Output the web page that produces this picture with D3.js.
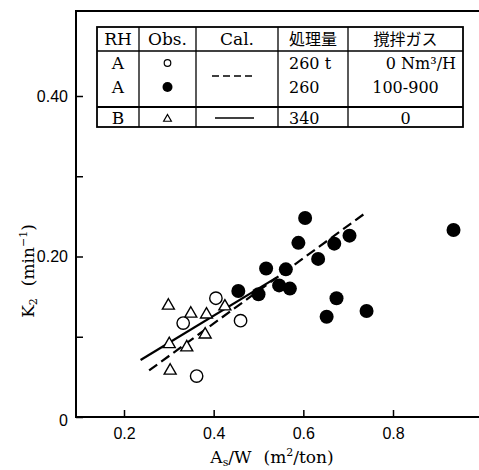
<!DOCTYPE html>
<html>
<head>
<meta charset="utf-8">
<script src="https://cdn.jsdelivr.net/npm/d3@7"></script>
<style>
  body { margin: 0; background: #fff; }
  svg { display: block; font-family: "DejaVu Serif", "Liberation Serif", serif; }
  .jp { font-family: "Noto Sans CJK JP", sans-serif; }
</style>
</head>
<body>
<script>
// observed points [As/W, K2]
var openCircles = [[0.405, 0.148], [0.332, 0.117], [0.460, 0.120], [0.362, 0.051]];
var filledCircles = [
  [0.604, 0.248], [0.935, 0.233], [0.589, 0.217], [0.703, 0.226], [0.669, 0.216],
  [0.633, 0.197], [0.517, 0.185], [0.561, 0.184], [0.546, 0.164], [0.570, 0.160],
  [0.455, 0.157], [0.500, 0.153], [0.674, 0.148], [0.652, 0.125], [0.741, 0.132]
];
var triangles = [
  [0.299, 0.140], [0.349, 0.130], [0.384, 0.129], [0.425, 0.139],
  [0.301, 0.092], [0.381, 0.104], [0.340, 0.088], [0.303, 0.059]
];
// calculated lines
var dashedLine = [[0.256, 0.058], [0.738, 0.254]];
var solidLine = [[0.237, 0.071], [0.541, 0.174]];

var xTicks = [0.2, 0.4, 0.6, 0.8];
var yTicks = [0, 0.1, 0.2, 0.3, 0.4];
var yLabels = {0: "0", 0.2: "0.20", 0.4: "0.40"};

var tableHead = ["RH", "Obs.", "Cal.", "処理量", "撹拌ガス"];
var tableRH = ["A", "A", "B"];
var tableAmount = ["260 t", "260", "340"];
var tableGas = ["0 Nm³/H", "100-900", "0"];

var W = 479, H = 470;
var svg = d3.select("body").append("svg")
  .attr("width", W).attr("height", H);

var x = d3.scaleLinear().domain([0.2, 0.8]).range([124, 393]);
var y = d3.scaleLinear().domain([0, 0.4]).range([417, 96]);
var frameL = 76, frameT = 11, frameR = 479, frameB = 417;

// frame
svg.append("path")
  .attr("d", "M" + frameR + "," + frameT + "H" + frameL + "V" + frameB + "H" + frameR)
  .attr("fill", "none").attr("stroke", "#000").attr("stroke-width", 2);

var xAxis = svg.append("g")
  .attr("transform", "translate(0," + frameB + ")")
  .call(d3.axisBottom(x).tickValues(xTicks).tickSizeInner(-7).tickSizeOuter(0)
    .tickPadding(13).tickFormat(d3.format(".1f")));
xAxis.select(".domain").remove();
xAxis.selectAll("line").attr("stroke-width", 1.5);
xAxis.selectAll("text").attr("font-size", 16).attr("font-family", null).attr("dy", "0.55em");

var yAxis = svg.append("g")
  .attr("transform", "translate(" + frameL + ",0)")
  .call(d3.axisLeft(y).tickValues(yTicks).tickSizeInner(-7).tickSizeOuter(0)
    .tickPadding(8).tickFormat(function(d) { return yLabels[d] || ""; }));
yAxis.select(".domain").remove();
yAxis.selectAll("line").attr("stroke-width", 1.5);
yAxis.selectAll("text").attr("font-size", 16).attr("font-family", null);
yAxis.selectAll(".tick").filter(function(d) { return d === 0; })
  .select("text").attr("dy", "0.55em");

// axis titles
var xt = svg.append("text").attr("x", 272).attr("y", 463)
  .attr("text-anchor", "middle").attr("font-size", 17);
xt.append("tspan").text("A");
xt.append("tspan").attr("font-size", 11).attr("dy", 3).text("s");
xt.append("tspan").attr("dy", -3).text("/W");
xt.append("tspan").attr("dx", 12).text("(m");
xt.append("tspan").attr("font-size", 11).attr("dy", -7).text("2");
xt.append("tspan").attr("dy", 7).text("/ton)");

var yt = svg.append("text")
  .attr("transform", "translate(34,271) rotate(-90)")
  .attr("text-anchor", "middle").attr("font-size", 17);
yt.append("tspan").text("K");
yt.append("tspan").attr("font-size", 11).attr("dy", 3).text("2");
yt.append("tspan").attr("dy", -3).attr("dx", 12).text("(min");
yt.append("tspan").attr("font-size", 11).attr("dy", -7).text("−1");
yt.append("tspan").attr("dy", 7).text(")");

// calculated lines
var line = d3.line().x(function(d) { return x(d[0]); }).y(function(d) { return y(d[1]); });
svg.append("path").datum(solidLine).attr("d", line)
  .attr("fill", "none").attr("stroke", "#000").attr("stroke-width", 2.2);
svg.append("path").datum(dashedLine).attr("d", line)
  .attr("fill", "none").attr("stroke", "#000").attr("stroke-width", 2.2)
  .attr("stroke-dasharray", "10,5");

// points
var tri = d3.symbol().type(d3.symbolTriangle).size(62);
svg.selectAll(".tri").data(triangles).enter().append("path")
  .attr("d", tri)
  .attr("transform", function(d) { return "translate(" + x(d[0]) + "," + (y(d[1]) + 1) + ")"; })
  .attr("fill", "#fff").attr("stroke", "#000").attr("stroke-width", 1.4);
svg.selectAll(".open").data(openCircles).enter().append("circle")
  .attr("cx", function(d) { return x(d[0]); })
  .attr("cy", function(d) { return y(d[1]); })
  .attr("r", 6.2).attr("fill", "#fff").attr("stroke", "#000").attr("stroke-width", 1.4);
svg.selectAll(".filled").data(filledCircles).enter().append("circle")
  .attr("cx", function(d) { return x(d[0]); })
  .attr("cy", function(d) { return y(d[1]); })
  .attr("r", 7).attr("fill", "#000");

// legend table
var cols = [97, 139, 196, 278, 348, 463];
var rowsY = [27, 51, 107, 127];
var tb = svg.append("g");
tb.append("rect").attr("x", cols[0]).attr("y", rowsY[0])
  .attr("width", cols[5] - cols[0]).attr("height", rowsY[3] - rowsY[0])
  .attr("fill", "#fff").attr("stroke", "#000").attr("stroke-width", 1.8);
cols.slice(1, 5).forEach(function(c) {
  tb.append("line").attr("x1", c).attr("x2", c).attr("y1", rowsY[0]).attr("y2", rowsY[3])
    .attr("stroke", "#000").attr("stroke-width", 1.3);
});
[rowsY[1], rowsY[2]].forEach(function(r, i) {
  tb.append("line").attr("x1", cols[0]).attr("x2", cols[5]).attr("y1", r).attr("y2", r)
    .attr("stroke", "#000").attr("stroke-width", i ? 2 : 1.3);
});
var mid = function(i) { return (cols[i] + cols[i + 1]) / 2; };
tableHead.forEach(function(t, i) {
  tb.append("text").attr("x", mid(i)).attr("y", 39).attr("dy", "0.35em")
    .attr("text-anchor", "middle").attr("font-size", i > 2 ? 16 : 17)
    .attr("class", i > 2 ? "jp" : null).text(t);
});
var rowC = [63, 87, 118];
tableRH.forEach(function(t, i) {
  tb.append("text").attr("x", mid(0)).attr("y", rowC[i]).attr("dy", "0.35em")
    .attr("text-anchor", "middle").attr("font-size", 17).text(t);
});
tableAmount.forEach(function(t, i) {
  tb.append("text").attr("x", 289).attr("y", rowC[i]).attr("dy", "0.35em")
    .attr("font-size", 16).text(t);
});
tableGas.forEach(function(t, i) {
  tb.append("text").attr("x", i === 0 ? 456 : mid(4)).attr("y", rowC[i]).attr("dy", "0.35em")
    .attr("text-anchor", i === 0 ? "end" : "middle").attr("font-size", 16).text(t);
});
tb.append("circle").attr("cx", mid(1)).attr("cy", rowC[0]).attr("r", 3.3)
  .attr("fill", "#fff").attr("stroke", "#000").attr("stroke-width", 1.2);
tb.append("circle").attr("cx", mid(1)).attr("cy", rowC[1]).attr("r", 5).attr("fill", "#000");
tb.append("path").attr("d", d3.symbol().type(d3.symbolTriangle).size(26))
  .attr("transform", "translate(" + mid(1) + "," + (rowC[2] + 1) + ")")
  .attr("fill", "#fff").attr("stroke", "#000").attr("stroke-width", 1.2);
tb.append("line").attr("x1", 212).attr("x2", 256).attr("y1", 76).attr("y2", 76)
  .attr("stroke", "#000").attr("stroke-width", 1.6).attr("stroke-dasharray", "7,4");
tb.append("line").attr("x1", 215).attr("x2", 254).attr("y1", rowC[2]).attr("y2", rowC[2])
  .attr("stroke", "#000").attr("stroke-width", 1.6);
</script>
</body>
</html>
